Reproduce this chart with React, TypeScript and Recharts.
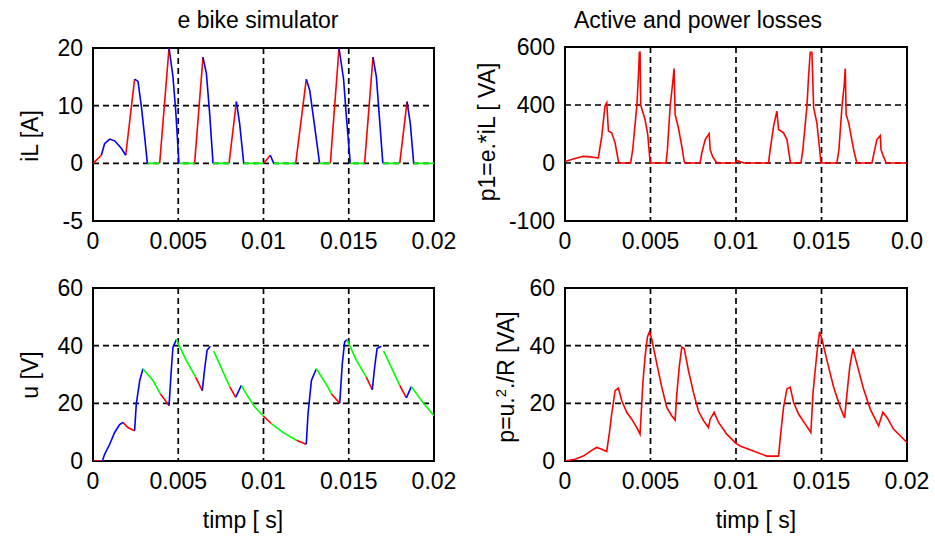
import { CartesianGrid, Line, LineChart, ReferenceArea, XAxis, YAxis } from "recharts";

const FONT = "'Liberation Sans', Arial, sans-serif";

// shared time axis (s)
const xTicks = [0, 0.005, 0.01, 0.015, 0.02];
const xTickLabels = ["0", "0.005", "0.01", "0.015", "0.02"];
const xTickLabelsCut = ["0", "0.005", "0.01", "0.015", "0.0"];

// iL [A], time in ms; mode = colour of the segment starting at each point
const iLTime = [0, 0.49, 0.68, 0.98, 1.27, 1.66, 1.92, 2.44, 2.64, 2.84, 3.03, 3.19, 3.91, 4.46, 4.69, 4.85, 5.04, 5.96, 6.45, 6.65, 6.84, 7.04, 7.98, 8.41, 8.6, 8.84, 10.01, 10.4, 10.6, 11.89, 12.51, 12.71, 13.0, 13.29, 13.92, 14.43, 14.7, 14.86, 15.09, 15.93, 16.42, 16.62, 16.81, 17.0, 17.99, 18.42, 18.61, 18.81, 20];
const iLValue = [0, 1.4, 3.4, 4.2, 3.9, 2.6, 1.4, 14.6, 14.2, 9.8, 4.6, 0, 0, 20, 15, 9.2, 0, 0, 18.4, 15.6, 8.7, 0, 0, 10.7, 6.9, 0, 0, 1.4, 0, 0, 14.6, 12.7, 6.4, 0, 0, 20, 14.5, 8.1, 0, 0, 18.4, 15, 7.5, 0, 0, 10.7, 6.9, 0, 0];
const iLMode = "r b b b b b r b b b b g r b b b g r b b b g r b b g r b g r b b b g r b b b g r b b b g r b b g g".split(" ");
const iLTicks = [-10, 0, 10, 20];
const iLTickLabels = ["-5", "0", "10", "20"];

// u [V]
const uTime = [0, 0.55, 0.68, 0.98, 1.27, 1.56, 1.76, 2.05, 2.44, 2.54, 2.74, 2.93, 3.52, 3.95, 4.46, 4.59, 4.69, 4.89, 5.47, 6.02, 6.41, 6.55, 6.69, 6.88, 7.08, 8.02, 8.37, 8.7, 8.99, 9.48, 9.97, 10.46, 11.14, 11.93, 12.51, 12.61, 12.81, 13.1, 13.78, 13.98, 14.47, 14.62, 14.76, 14.9, 15.45, 16.03, 16.38, 16.52, 16.66, 16.91, 17.05, 17.99, 18.38, 18.67, 19.35, 20];
const uValue = [0, 0, 2.3, 5.8, 9.9, 12.6, 13.4, 11.6, 10.5, 19.8, 27.9, 32, 27.9, 23.3, 19.2, 31.4, 39.5, 42.1, 34.9, 29.1, 24.4, 32, 38.4, 39.8, 38.1, 25.8, 22.1, 26.2, 23.3, 18.8, 15.7, 13.0, 9.9, 7.2, 5.8, 16.3, 27.9, 32, 25.6, 23.3, 20, 33.7, 41.3, 42.1, 34.9, 29.1, 24.7, 32.6, 39, 39.8, 38.1, 26.2, 21.9, 25.8, 20.3, 15.7];
const uMode = "r b b b b b r r b b b g g r b b b g g r b b b - g r b g g g r g g r b b b g g r b b b g g r b b b - g r b g g g".split(" ");
const uTicks = [0, 20, 40, 60];

// p1 = e.*iL [VA]
const p1Time = [0, 0.49, 1.07, 1.46, 1.95, 2.15, 2.34, 2.44, 2.54, 2.73, 2.93, 3.12, 3.18, 3.84, 3.96, 4.2, 4.29, 4.35, 4.39, 4.43, 4.68, 4.84, 4.98, 5.91, 5.99, 6.15, 6.3, 6.38, 6.44, 6.63, 6.83, 6.97, 7.02, 7.9, 8.0, 8.2, 8.43, 8.49, 8.64, 8.88, 9.95, 10.05, 10.34, 10.44, 11.9, 12.0, 12.2, 12.39, 12.49, 12.78, 12.98, 13.17, 13.21, 13.8, 13.91, 14.15, 14.24, 14.34, 14.44, 14.54, 14.73, 14.83, 14.97, 15.9, 16.02, 16.2, 16.33, 16.39, 16.44, 16.59, 16.88, 17.04, 17.08, 17.95, 18.05, 18.24, 18.44, 18.48, 18.63, 18.79, 20];
const p1Value = [10, 28, 46, 42, 35, 185, 393, 416, 220, 208, 139, 12, 0, 0, 92, 393, 590, 763, 763, 398, 300, 196, 0, 0, 92, 393, 555, 652, 335, 243, 116, 12, 0, 0, 69, 162, 203, 92, 42, 0, 0, 18, 5, 0, 0, 92, 254, 358, 231, 208, 162, 12, 0, 0, 92, 393, 590, 763, 763, 381, 277, 162, 0, 0, 92, 393, 543, 652, 335, 277, 92, 12, 0, 0, 58, 162, 190, 92, 42, 0, 0];
const p1Ticks = [-400, 0, 400, 800];
const p1TickLabels = ["-100", "0", "400", "600"];

// p = u.^2./R [VA]
const pTime = [0, 0.59, 1.07, 1.56, 1.85, 2.15, 2.44, 2.6, 2.73, 2.93, 3.12, 3.32, 3.61, 3.9, 4.2, 4.39, 4.55, 4.68, 4.82, 4.94, 5.07, 5.37, 5.66, 5.95, 6.24, 6.44, 6.54, 6.69, 6.83, 6.97, 7.22, 7.51, 7.8, 8.1, 8.39, 8.49, 8.72, 8.98, 9.46, 9.95, 10.24, 11.02, 11.8, 12.49, 12.59, 12.78, 12.98, 13.17, 13.37, 13.66, 14.05, 14.38, 14.5, 14.63, 14.77, 14.89, 15.02, 15.32, 15.71, 16.1, 16.35, 16.49, 16.65, 16.84, 17.07, 17.46, 17.85, 18.34, 18.59, 18.83, 19.22, 20];
const pValue = [0, 0.6, 1.7, 3.7, 4.7, 4.1, 3.3, 9.9, 16.3, 24.4, 25.3, 20.9, 16.9, 14.5, 11.6, 9.3, 26.7, 36, 43, 44.8, 42.4, 33.7, 25.6, 18.6, 15.7, 14.2, 23.3, 33.1, 39.5, 39, 31.4, 23.8, 17.4, 14, 11.6, 14.5, 16.9, 13.4, 9.3, 6.4, 5.2, 3.5, 1.7, 1.7, 8.1, 18.6, 25, 25.6, 20.3, 16.3, 12.8, 9.9, 23.3, 31.4, 39.5, 44.8, 42.4, 34.9, 25.6, 18.6, 14.9, 23.3, 32.6, 39, 33.7, 25, 18, 12.2, 16.9, 15.1, 11, 6.4];

const RED = "#ff0000";
const BLUE = "#0000ff";
const GREEN = "#00ff00";

type Pt = { t: number; v: number | null };

function toPoints(time: number[], value: number[]): Pt[] {
  return time.map((t, i) => ({ t: t / 1000, v: value[i] }));
}

// pick only the segments of one colour, breaking the line elsewhere
function pickMode(time: number[], value: number[], mode: string[], want: string): Pt[] {
  const out: Pt[] = [];
  let last = -1;
  for (let i = 0; i < time.length - 1; i++) {
    if (mode[i] !== want) continue;
    if (last !== i) {
      if (out.length) out.push({ t: time[i] / 1000, v: null });
      out.push({ t: time[i] / 1000, v: value[i] });
    }
    out.push({ t: time[i + 1] / 1000, v: value[i + 1] });
    last = i + 1;
  }
  return out;
}

const tickStyle = { fontSize: 23, fill: "#000", fontFamily: FONT };

interface Series {
  data: Pt[];
  color: string;
}

interface PanelProps {
  left: number;
  top: number;
  width: number;
  height: number;
  yDomain: [number, number];
  yTicks: number[];
  yTickLabels: string[];
  xLabels: string[];
  series: Series[];
}

function Panel({ left, top, width, height, yDomain, yTicks, yTickLabels, xLabels, series }: PanelProps) {
  const ml = 90;
  const mt = 20;
  const mr = 25;
  const mb = 40;
  return (
    <div style={{ position: "absolute", left: left - ml, top: top - mt }}>
      <LineChart
        width={ml + width + mr}
        height={mt + height + mb}
        margin={{ top: mt, right: mr, bottom: 0, left: 0 }}
      >
        <CartesianGrid stroke="#000" strokeWidth={1.7} strokeDasharray="6 4" />
        <XAxis
          type="number"
          dataKey="t"
          domain={[0, 0.02]}
          ticks={xTicks}
          tickFormatter={(v) => xLabels[xTicks.indexOf(v)]}
          allowDataOverflow
          axisLine={false}
          tickLine={false}
          tickSize={0}
          tickMargin={12}
          height={mb}
          interval={0}
          tick={tickStyle}
        />
        <YAxis
          type="number"
          domain={yDomain}
          ticks={yTicks}
          tickFormatter={(v) => yTickLabels[yTicks.indexOf(v)]}
          allowDataOverflow
          axisLine={false}
          tickLine={false}
          tickSize={0}
          tickMargin={10}
          width={ml}
          interval={0}
          tick={tickStyle}
        />
        {series.map((s, i) => (
          <Line
            key={i}
            data={s.data}
            dataKey="v"
            type="linear"
            stroke={s.color}
            strokeWidth={1.6}
            dot={false}
            connectNulls={false}
            isAnimationActive={false}
          />
        ))}
        <ReferenceArea
          x1={0}
          x2={0.02}
          y1={yDomain[0]}
          y2={yDomain[1]}
          fill="none"
          stroke="#000"
          strokeWidth={2}
          ifOverflow="visible"
        />
      </LineChart>
    </div>
  );
}

function Text({ x, y, children, rotate }: { x: number; y: number; children: any; rotate?: boolean }) {
  return (
    <div
      style={{
        position: "absolute",
        left: x,
        top: y,
        transform: `translate(-50%, -50%)${rotate ? " rotate(-90deg)" : ""}`,
        whiteSpace: "nowrap",
        fontFamily: FONT,
        fontSize: 23,
        lineHeight: "26px",
        color: "#000",
      }}
    >
      {children}
    </div>
  );
}

export default function App() {
  const uSeries = (m: string) => pickMode(uTime, uValue, uMode, m);
  const iSeries = (m: string) => pickMode(iLTime, iLValue, iLMode, m);
  return (
    <div
      style={{
        position: "absolute",
        left: 0,
        top: 0,
        width: 935,
        height: 538,
        background: "#fff",
        overflow: "hidden",
      }}
    >
      <Text x={258} y={20}>e bike simulator</Text>
      <Text x={698} y={20}>Active and power losses</Text>

      <Panel
        left={93}
        top={48}
        width={341}
        height={173}
        yDomain={[-10, 20]}
        yTicks={iLTicks}
        yTickLabels={iLTickLabels}
        xLabels={xTickLabels}
        series={[
          { data: iSeries("r"), color: RED },
          { data: iSeries("b"), color: BLUE },
          { data: iSeries("g"), color: GREEN },
        ]}
      />
      <Panel
        left={565}
        top={47}
        width={342}
        height={174}
        yDomain={[-400, 800]}
        yTicks={p1Ticks}
        yTickLabels={p1TickLabels}
        xLabels={xTickLabelsCut}
        series={[{ data: toPoints(p1Time, p1Value), color: RED }]}
      />
      <Panel
        left={93}
        top={288}
        width={341}
        height={173}
        yDomain={[0, 60]}
        yTicks={uTicks}
        yTickLabels={uTicks.map(String)}
        xLabels={xTickLabels}
        series={[
          { data: uSeries("r"), color: RED },
          { data: uSeries("b"), color: BLUE },
          { data: uSeries("g"), color: GREEN },
        ]}
      />
      <Panel
        left={565}
        top={288}
        width={342}
        height={173}
        yDomain={[0, 60]}
        yTicks={uTicks}
        yTickLabels={uTicks.map(String)}
        xLabels={xTickLabels}
        series={[{ data: toPoints(pTime, pValue), color: RED }]}
      />

      <Text x={30} y={136} rotate>iL [A]</Text>
      <Text x={487} y={132} rotate>p1=e.*iL [ VA]</Text>
      <Text x={30} y={375} rotate>u [V]</Text>
      <Text x={503} y={377} rotate>
        p=u.<sup style={{ fontSize: 15, verticalAlign: "8px" }}>2</sup>./R [VA]
      </Text>
      <Text x={243} y={520}>timp [ s]</Text>
      <Text x={756} y={520}>timp [ s]</Text>
    </div>
  );
}
